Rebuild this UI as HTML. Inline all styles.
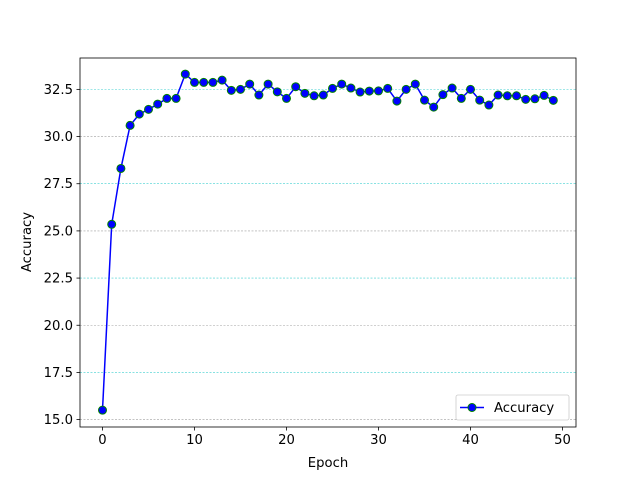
<!DOCTYPE html>
<html><head><meta charset="utf-8"><style>
body{margin:0;background:#fff;font-family:"Liberation Sans","DejaVu Sans",sans-serif}
svg text{font-family:"DejaVu Sans","Liberation Sans",sans-serif;font-size:13.2px;fill:#000}
</style></head><body>
<svg id="c" width="640" height="480" xmlns="http://www.w3.org/2000/svg"></svg>
<script>
const epochs=[0,1,2,3,4,5,6,7,8,9,10,11,12,13,14,15,16,17,18,19,20,21,22,23,24,25,26,27,28,29,30,31,32,33,34,35,36,37,38,39,40,41,42,43,44,45,46,47,48,49];
const accuracy=[15.5,25.35,28.31,30.59,31.19,31.44,31.72,32.02,32.02,33.31,32.87,32.87,32.87,32.99,32.45,32.5,32.78,32.2,32.78,32.37,32.02,32.64,32.29,32.16,32.2,32.55,32.78,32.57,32.36,32.41,32.42,32.55,31.88,32.5,32.78,31.93,31.56,32.22,32.57,32.02,32.5,31.93,31.67,32.2,32.16,32.16,31.97,32.0,32.18,31.92];
const xTicks=[0,10,20,30,40,50];
const yTicks=[15.0,17.5,20.0,22.5,25.0,27.5,30.0,32.5];
const L=80,R=576,T=58,B=427;
const xs=v=>102.5+v*9.2;
const ys=v=>419.6-(v-15)*18.87;
const svg=document.getElementById('c');const NS='http://www.w3.org/2000/svg';
function mk(t,a,p){const e=document.createElementNS(NS,t);for(const k in a)e.setAttribute(k,a[k]);(p||svg).appendChild(e);return e;}
yTicks.forEach((v,i)=>{
 const g=mk('line',{x1:L,x2:R,y1:ys(v),y2:ys(v),stroke:i%2?'#40d0d0':'#a0a0a0','stroke-width':0.6,'stroke-dasharray':'2,1.5'});
 
 
 mk('line',{x1:L-3.5,x2:L,y1:ys(v),y2:ys(v),stroke:'#000','stroke-width':0.8});
 const t=mk('text',{x:L-7,y:ys(v)+4.5,'text-anchor':'end'});t.textContent=v.toFixed(1);
 
 
});
xTicks.forEach(v=>{
 mk('line',{x1:xs(v),x2:xs(v),y1:B,y2:B+3.5,stroke:'#000','stroke-width':0.8});
 const t=mk('text',{x:xs(v),y:B+17,'text-anchor':'middle'});t.textContent=v;
 
 
});
const ln=mk('polyline',{points:epochs.map((e,i)=>xs(e)+','+ys(accuracy[i])).join(' '),fill:'none',stroke:'#0000ff','stroke-width':1.5});


epochs.forEach((e,i)=>{
 const c=mk('circle',{cx:xs(e),cy:ys(accuracy[i]),r:4,fill:'#0000ff',stroke:'#008000','stroke-width':1});
 
 
});
const fr=mk('rect',{x:L,y:T,width:R-L,height:B-T,fill:'none',stroke:'#000','stroke-width':0.8});


const xl=mk('text',{x:328,y:467,'text-anchor':'middle'});xl.textContent='Epoch';


const yl=mk('text',{x:31,y:242,'text-anchor':'middle',transform:'rotate(-90 31 242)'});yl.textContent='Accuracy';


const lg=mk('g',{});


mk('rect',{x:456,y:395,width:113,height:25,rx:2,fill:'#fff',stroke:'#ccc','stroke-width':0.8},lg);
mk('line',{x1:460,x2:484,y1:407.5,y2:407.5,stroke:'#0000ff','stroke-width':1.5},lg);
mk('circle',{cx:472,cy:407.5,r:4,fill:'#0000ff',stroke:'#008000','stroke-width':1},lg);
const lt=mk('text',{x:494,y:412},lg);lt.textContent='Accuracy';


</script>
</body></html>
